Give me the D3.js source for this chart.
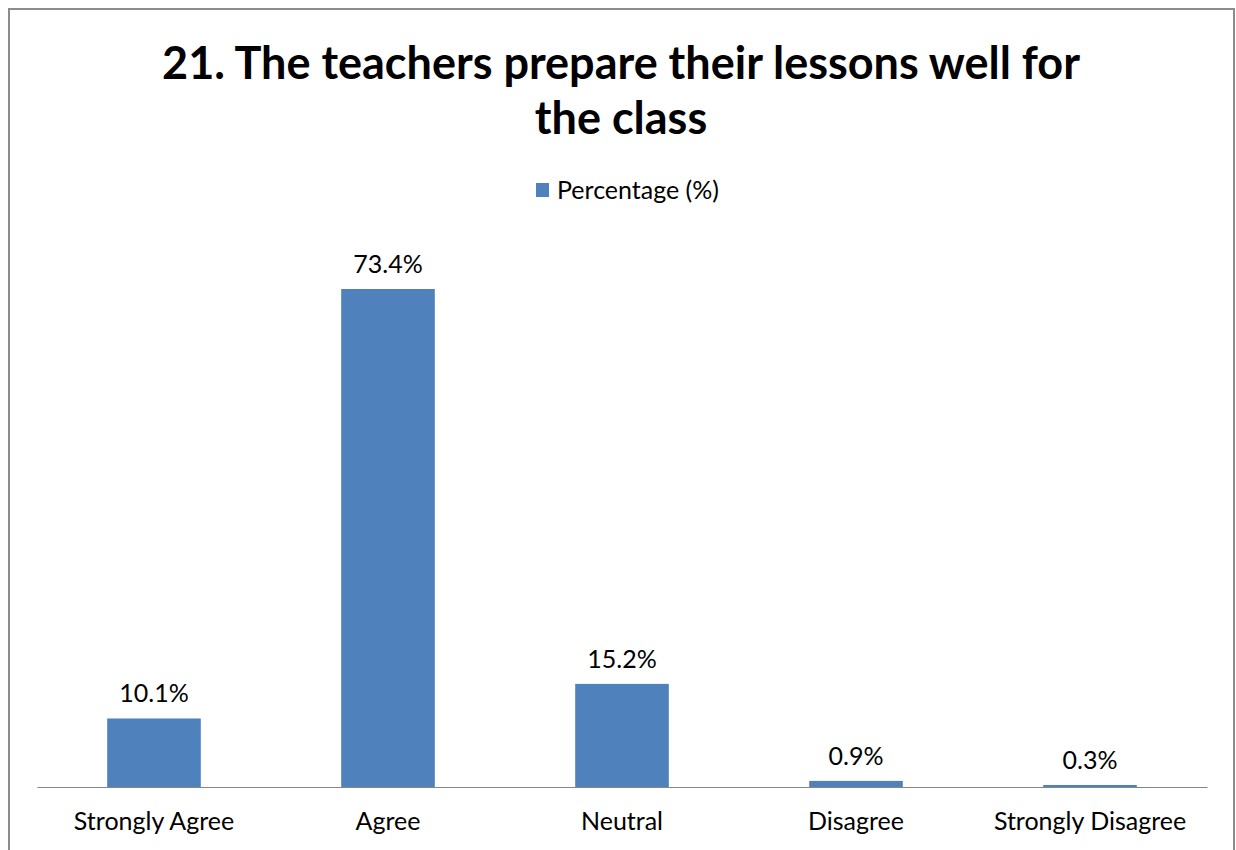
<!DOCTYPE html>
<html>
<head>
<meta charset="utf-8">
<script src="https://cdn.jsdelivr.net/npm/d3@7"></script>
<style>
  body { margin: 0; background: #fff; }
  svg { display: block; font-family: Lato, "Open Sans", sans-serif; }
</style>
</head>
<body>
<div id="chart"></div>
<script>
// chart data
const categories = ["Strongly Agree", "Agree", "Neutral", "Disagree", "Strongly Disagree"];
const values = [10.1, 73.4, 15.2, 0.9, 0.3];
const seriesName = "Percentage (%)";
const titleLines = ["21. The teachers prepare their lessons well for", "the class"];

const W = 1236, H = 850;
const plot = {left: 37, right: 1207, top: 0, bottom: 787};

const svg = d3.select("#chart").append("svg")
    .attr("width", W)
    .attr("height", H);

// outer frame
svg.append("rect")
    .attr("x", 9).attr("y", 9)
    .attr("width", 1225).attr("height", 860)
    .attr("fill", "#fff")
    .attr("stroke", "#8c8c8c")
    .attr("stroke-width", 2);

// title
svg.append("text")
    .attr("text-anchor", "middle")
    .attr("font-weight", "bold")
    .attr("font-size", 45)
    .attr("fill", "#000")
    .selectAll("tspan")
    .data(titleLines)
    .enter()
    .append("tspan")
      .attr("x", 621)
      .attr("y", (d, i) => 79 + i * 55)
      .text(d => d);

// legend
svg.append("rect")
    .attr("x", 536).attr("y", 183)
    .attr("width", 13).attr("height", 14)
    .attr("fill", "#4f81bd");
svg.append("text")
    .attr("x", 557).attr("y", 199)
    .attr("font-size", 25)
    .attr("fill", "#000")
    .text(seriesName);

const x = d3.scaleBand()
    .domain(categories)
    .range([plot.left, plot.right])
    .paddingInner(0.6)
    .paddingOuter(0.3);

// 73.4% bar reaches y=289
const y = d3.scaleLinear()
    .domain([0, 73.4])
    .range([plot.bottom, 289]);

svg.append("g")
    .selectAll("rect")
    .data(values)
    .enter()
    .append("rect")
      .attr("x", (d, i) => x(categories[i]))
      .attr("y", d => y(d))
      .attr("width", x.bandwidth())
      .attr("height", d => y(0) - y(d))
      .attr("fill", "#4f81bd");

// value labels
svg.append("g")
    .selectAll("text")
    .data(values)
    .enter()
    .append("text")
      .attr("x", (d, i) => x(categories[i]) + x.bandwidth() / 2)
      .attr("y", d => y(d) - 16)
      .attr("text-anchor", "middle")
      .attr("font-size", 25)
      .attr("fill", "#000")
      .text(d => d.toFixed(1) + "%");

// x axis
const xAxis = svg.append("g")
    .attr("transform", `translate(0,${plot.bottom})`)
    .call(d3.axisBottom(x).tickSize(0).tickPadding(25));
xAxis.select(".domain").attr("stroke", "#868686").attr("stroke-width", 1.2);
xAxis.selectAll(".tick text")
    .attr("font-size", 25)
    .attr("font-family", "Lato, 'Open Sans', sans-serif")
    .attr("fill", "#000");
</script>
</body>
</html>
